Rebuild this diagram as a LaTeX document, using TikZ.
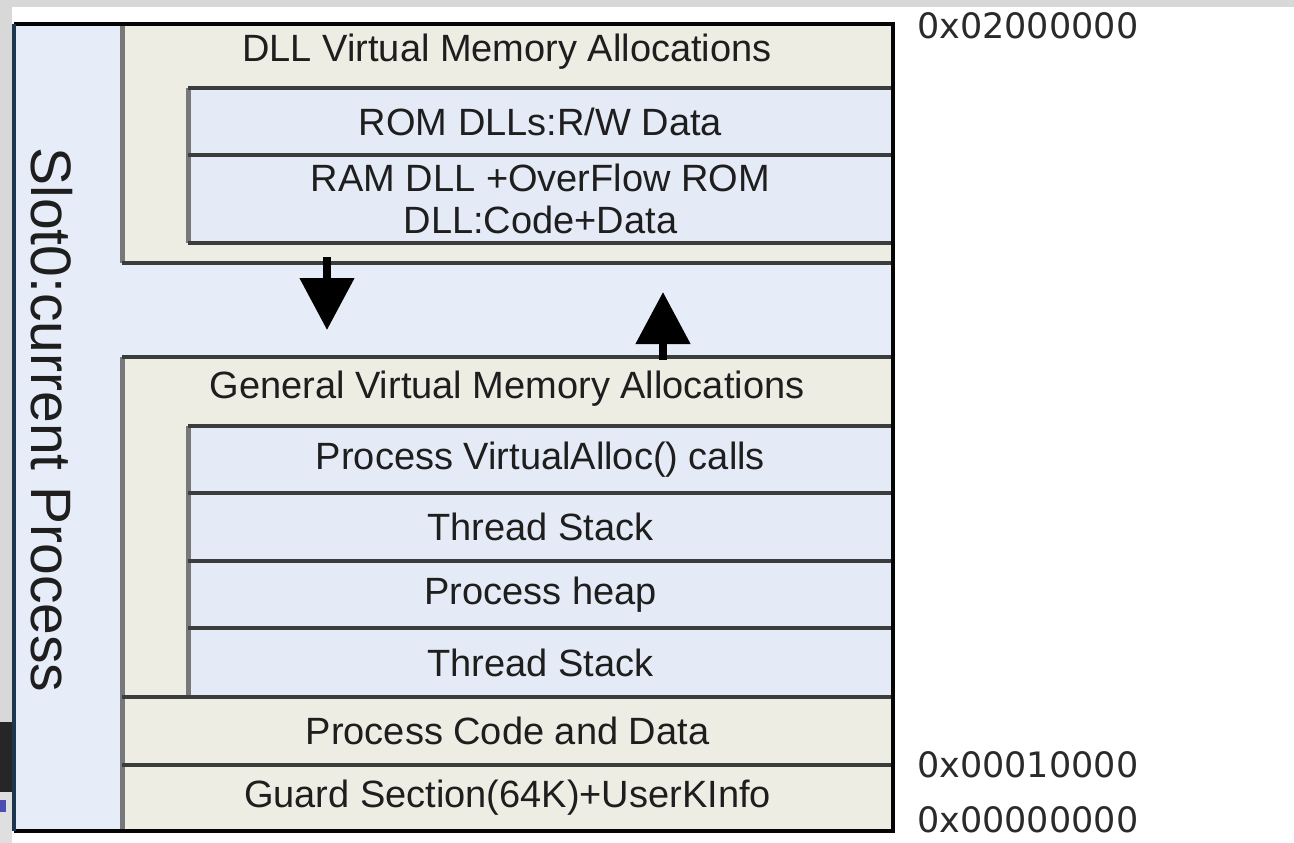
\documentclass[tikz,border=0pt]{standalone}
\usepackage{fontspec}
\setmainfont{Liberation Sans}
\newfontfamily\hexfont{DejaVu Sans}
\usetikzlibrary{arrows.meta}
\definecolor{beige}{HTML}{EDEDE4}
\definecolor{lblue}{HTML}{E5EBF6}
\definecolor{slotblue}{HTML}{E7EDF8}
\definecolor{bandgray}{HTML}{D8D8D8}
\definecolor{divline}{HTML}{3A3D3C}
\definecolor{edgegray}{HTML}{76787A}
\definecolor{framecol}{HTML}{050505}
\definecolor{txt}{HTML}{1E1E1E}
\definecolor{hexcol}{HTML}{2A2A2A}
\definecolor{leftblue}{HTML}{1E3550}
\tikzset{
  cell/.style={anchor=north west, inner sep=0pt, outer sep=0pt, text=txt,
    font=\fontsize{38}{42}\selectfont, align=center},
  beigecell/.style={cell, fill=beige},
  bluecell/.style={cell, fill=lblue},
  divider/.style={draw=divline, line width=3.5pt},
  leftedge/.style={draw=edgegray, line width=5pt},
  hexlabel/.style={anchor=west, inner sep=0pt, text=hexcol, font=\hexfont\fontsize{35}{38}\selectfont},
  bigarrow/.style={draw=black, line width=8pt, -{Triangle[width=53pt,length=52pt]}}
}
\begin{document}
\begin{tikzpicture}[x=1pt,y=-1pt]
\useasboundingbox (0,0) rectangle (1294,843);
\fill[white] (0,0) rectangle (1294,843);
% background bands
\fill[bandgray] (0,0) rectangle (1294,7);
\fill[bandgray] (0,0) rectangle (12,843);
\fill[black!85] (0,722) rectangle (12,792);
\fill[gray!25] (0,792) rectangle (12,843);
\fill[blue!40!gray] (0,800) rectangle (6,812);
% frame area
\node[cell, fill=slotblue, minimum width=879pt, minimum height=807pt] (frame) at (14,24) {};
% DLL box
\node[beigecell, minimum width=771pt, minimum height=239pt] (dll) at (122,24) {};
\node[text=txt, font=\fontsize{38}{42}\selectfont, inner sep=0pt] (dlltitle) at (507,52) {DLL Virtual Memory Allocations};
\node[bluecell, minimum width=705pt, minimum height=67pt] (rom) at (188,88) {ROM DLLs:R/W Data};
\node[bluecell, minimum width=705pt, minimum height=88pt] (ram) at (188,155) {RAM DLL +OverFlow ROM\\DLL:Code+Data};
% General box
\node[beigecell, minimum width=771pt, minimum height=340pt] (gen) at (122,357) {};
\node[text=txt, font=\fontsize{38}{42}\selectfont, inner sep=0pt] (gentitle) at (507,389) {General Virtual Memory Allocations};
\node[bluecell, minimum width=705pt, minimum height=67pt] (va) at (188,426) {Process VirtualAlloc() calls};
\node[bluecell, minimum width=705pt, minimum height=68pt] (ts1) at (188,493) {Thread Stack};
\node[bluecell, minimum width=705pt, minimum height=67pt] (heap) at (188,561) {Process heap};
\node[bluecell, minimum width=705pt, minimum height=69pt] (ts2) at (188,628) {Thread Stack};
\node[beigecell, minimum width=771pt, minimum height=68pt] (pcode) at (122,697) {Process Code and Data};
\node[beigecell, minimum width=771pt, minimum height=66pt] (guard) at (122,765) {Guard Section(64K)+UserKInfo};
% lines
\draw[leftedge] (dll.north west) -- (dll.south west);
\draw[divider] (dll.south west) -- (dll.south east);
\draw[leftedge] (rom.north west) -- (ram.south west);
\draw[divider] (rom.north west) -- (rom.north east);
\draw[divider] (ram.north west) -- (ram.north east);
\draw[divider] (ram.south west) -- (ram.south east);
\draw[leftedge] (gen.north west) -- (guard.south west);
\draw[divider] (gen.north west) -- (gen.north east);
\draw[leftedge] (va.north west) -- (ts2.south west);
\draw[divider] (va.north west) -- (va.north east);
\draw[divider] (ts1.north west) -- (ts1.north east);
\draw[divider] (heap.north west) -- (heap.north east);
\draw[divider] (ts2.north west) -- (ts2.north east);
\draw[divider] (pcode.north west) -- (pcode.north east);
\draw[divider] (guard.north west) -- (guard.north east);
% arrows
\coordinate (downS) at (327,257);
\coordinate (downE) at (327,330);
\coordinate (upS) at (663,360);
\coordinate (upE) at (663,292);
\draw[bigarrow] (downS) -- (downE);
\draw[bigarrow] (upS) -- (upE);
% slot label
\node[rotate=-90, text=txt, font=\fontsize{57}{60}\selectfont, inner sep=0pt] (slot) at (52,420) {Slot0:current Process};
% outer frame
\draw[framecol, line width=4pt] (frame.north west) -- (frame.north east) -- (frame.south east) -- (frame.south west);
\draw[leftblue, line width=4pt] (frame.north west) -- (frame.south west);
% address labels
\node[hexlabel] (a2) at (917,26) {0x02000000};
\node[hexlabel] (a1) at (917,765) {0x00010000};
\node[hexlabel] (a0) at (917,820) {0x00000000};
\end{tikzpicture}
\end{document}
